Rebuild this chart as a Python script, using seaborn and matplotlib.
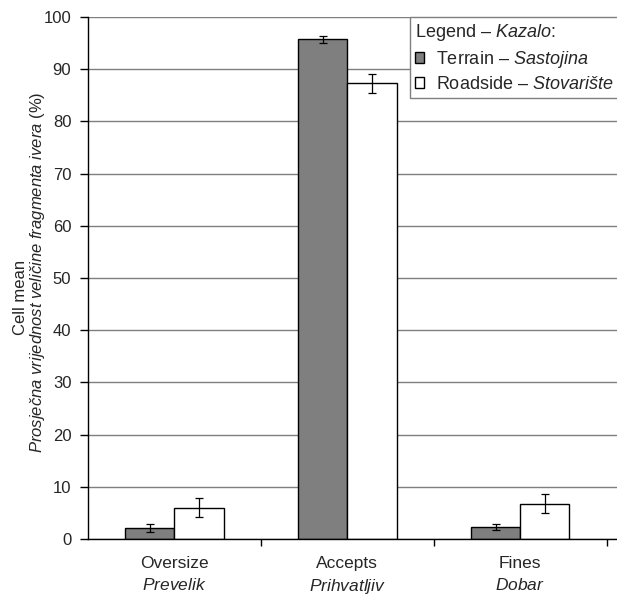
import numpy as np
import pandas as pd
import seaborn as sns
from matplotlib import pyplot as plt

# data
categories = ["Oversize", "Accepts", "Fines"]
categories_hr = ["Prevelik", "Prihvatljiv", "Dobar"]
groups = ["Terrain", "Roadside"]
groups_hr = ["Sastojina", "Stovarište"]
terrain_mean = [2.1, 95.7, 2.3]
terrain_err = [0.7, 0.6, 0.65]
roadside_mean = [6.0, 87.3, 6.8]
roadside_err = [1.8, 1.8, 1.75]

sns.set_style("white")
plt.rcParams['font.family'] = ['Liberation Sans', 'DejaVu Sans']
plt.rcParams['mathtext.fontset'] = 'custom'
plt.rcParams['mathtext.rm'] = 'Liberation Sans'
plt.rcParams['mathtext.it'] = 'Liberation Sans:italic'

df = pd.DataFrame({
    "category": categories * 2,
    "group": [groups[0]] * 3 + [groups[1]] * 3,
    "mean": terrain_mean + roadside_mean,
    "err": terrain_err + roadside_err,
})

W, H = 617, 596
fig = plt.figure(figsize=(W / 100, H / 100), dpi=100)
ax = fig.add_axes([88 / W, 1 - 539 / H, 1 - 88 / W, (539 - 17) / H])

ax.set_axisbelow(True)
ax.yaxis.grid(True, color="#7f7f7f", linewidth=1.0)

sns.barplot(data=df, x="category", y="mean", hue="group", order=categories,
            hue_order=groups, palette=["#7f7f7f", "white"], width=0.57, gap=0,
            edgecolor="black", linewidth=1.0, errorbar=None, ax=ax)

# error bars from the listed values, placed on the drawn bars
errs = [terrain_err, roadside_err]
bar_containers = list(ax.containers)
for i, cont in enumerate(bar_containers):
    xs = [p.get_x() + p.get_width() / 2 for p in cont.patches]
    hs = [p.get_height() for p in cont.patches]
    ax.errorbar(xs, hs, yerr=errs[i], fmt="none", ecolor="black",
                elinewidth=0.9, capsize=3, capthick=0.9, zorder=5)

ax.set_ylim(0, 100)
ax.set_yticks(np.arange(0, 101, 10))
ax.set_xlim(-0.5, 2.56)
ax.set_xticks([0, 1, 2])
ax.set_xticklabels([f"{c}\n$\\it{{{h}}}$" for c, h in zip(categories, categories_hr)],
                   fontsize=12.5, linespacing=1.45)
ax.set_xticks([0.5, 1.5, 2.5], minor=True)
ax.tick_params(axis="x", which="major", length=0, pad=12)
ax.tick_params(axis="x", which="minor", length=5, width=1, color="black",
               direction="out", bottom=True)
ax.tick_params(axis="y", length=6, width=1, color="black", direction="out",
               left=True, labelsize=12, pad=6)
ax.set_xlabel("")
ax.set_ylabel("")

# two-line y label, placed as in the original
fig.text(21 / W, 1 - 297 / H, "Cell mean", rotation=90, ha="center", va="center",
         fontsize=12)
fig.text(38 / W, 1 - 272 / H,
         "$\\it{Prosječna\\ vrijednost\\ veličine\\ fragmenta\\ ivera}$ (%)",
         rotation=90, ha="center", va="center", fontsize=12)

for s in ["top", "right"]:
    ax.spines[s].set_visible(False)
for s in ["left", "bottom"]:
    ax.spines[s].set_color("black")
    ax.spines[s].set_linewidth(1.0)

handles, _ = ax.get_legend_handles_labels()
labels = [f"{g} – $\\it{{{h}}}$" for g, h in zip(groups, groups_hr)]
leg = ax.legend(handles, labels, title="Legend – $\\it{Kazalo}$:", loc="upper left",
                bbox_to_anchor=((410 - 88) / (W - 88), 1.0), borderaxespad=0,
                fontsize=13, title_fontsize=13, frameon=True, fancybox=False,
                handlelength=0.55, handleheight=0.55, handletextpad=0.65,
                labelspacing=0.35, borderpad=0.25, alignment="left")
leg.get_frame().set_edgecolor("#7f7f7f")
leg.get_frame().set_linewidth(1.0)
leg.get_frame().set_alpha(1)

plt.savefig("out.png", dpi=100)
